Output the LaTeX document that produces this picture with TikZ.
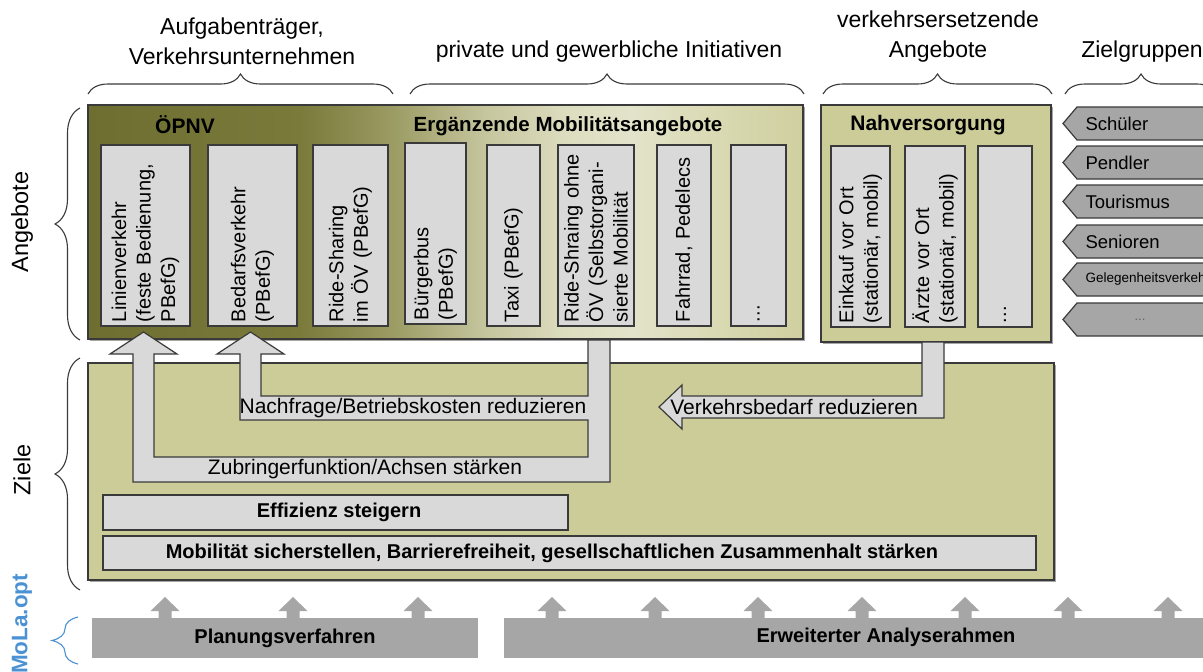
\documentclass[tikz,border=0pt]{standalone}
\usepackage{fontspec}
\setmainfont{Liberation Sans}
\usetikzlibrary{decorations.pathreplacing,shadows}

\definecolor{olivelight}{HTML}{CCCC99}
\definecolor{boxgray}{HTML}{D9D9D9}
\definecolor{bargray}{HTML}{A6A6A6}
\definecolor{edge}{HTML}{3A3A3A}
\definecolor{molablue}{HTML}{4A92D4}
\definecolor{g1}{HTML}{6E6E31}
\definecolor{g2}{HTML}{7A7A3B}
\definecolor{g3}{HTML}{9A9A62}
\definecolor{g4}{HTML}{C4C49C}
\definecolor{g5}{HTML}{DDDDC0}
\definecolor{g6}{HTML}{E3E3CB}
\definecolor{g7}{HTML}{D9D9B2}
\definecolor{g8}{HTML}{CFCFA0}

% olive gradient of the public transport / supplementary offers panel
\pgfdeclarehorizontalshading{oepnvgrad}{100bp}{%
  color(0bp)=(g1); color(25bp)=(g1); color(39.8bp)=(g2); color(46.1bp)=(g3);
  color(52.5bp)=(g4); color(58.5bp)=(g5); color(63bp)=(g6);
  color(69.2bp)=(g7); color(75bp)=(g8); color(100bp)=(g8)}

\tikzset{
  panel/.style={draw=edge, line width=1.6pt, inner sep=0pt,
    drop shadow={shadow xshift=2pt, shadow yshift=-2pt, fill=black, opacity=0.35}},
  ibox/.style={draw=edge, line width=1.2pt, fill=boxgray, rotate=90, align=left,
    inner ysep=0pt, inner xsep=4pt, minimum width=181pt, text width=173pt,
    font=\fontsize{20}{24.5}\selectfont},
  hbox/.style={draw=edge, line width=1.2pt, fill=boxgray, inner sep=0pt},
  blockarrow/.style={draw=edge, line width=1.2pt, fill=boxgray, line join=miter},
  headlabel/.style={font=\fontsize{23}{30}\selectfont, align=center},
  sidelabel/.style={font=\fontsize{23.5}{28}\selectfont, rotate=90},
  title/.style={font=\bfseries\fontsize{21}{25}\selectfont},
  goal/.style={font=\bfseries\fontsize{20}{24}\selectfont},
  arrowtext/.style={font=\fontsize{21}{25}\selectfont},
  bracedraw/.style={draw=edge, line width=1.1pt, decorate},
  group/.style={draw=edge, line width=1.2pt, fill=bargray},
  grouptext/.style={anchor=west, font=\fontsize{18.5}{22}\selectfont},
  uparrow/.style={fill=bargray},
}

\begin{document}
\begin{tikzpicture}[x=1pt, y=-1pt]
\useasboundingbox (0,0) rectangle (1203,672);
\clip (0,0) rectangle (1203,672);

% ---------- top captions and braces ----------
\node[headlabel] (capA) at (242,41) {Aufgabenträger,\\Verkehrsunternehmen};
\node[headlabel] (capB) at (609,52) {private und gewerbliche Initiativen};
\node[headlabel] (capC) at (938,37) {verkehrsersetzende\\Angebote};
\node[headlabel] (capD) at (1142,52) {Zielgruppen};
\draw[bracedraw, decoration={brace, amplitude=20pt}] (88,94) -- (393,94);
\draw[bracedraw, decoration={brace, amplitude=20pt}] (410,94) -- (804,94);
\draw[bracedraw, decoration={brace, amplitude=20pt}] (823,94) -- (1052,94);
\draw[bracedraw, decoration={brace, amplitude=20pt}] (1065,94) -- (1217,94);

% ---------- side captions and braces ----------
\node[sidelabel] (sideA) at (22,222) {Angebote};
\node[sidelabel] (sideZ) at (22,470) {Ziele};
\node[sidelabel, text=molablue, font=\bfseries\fontsize{22.5}{26}\selectfont] (sideM) at (22,624) {MoLa.opt};
\draw[bracedraw, decoration={brace, amplitude=25pt}] (80,340) -- (80,108);
\draw[bracedraw, decoration={brace, amplitude=25pt}] (80,590) -- (80,358);
\draw[bracedraw, draw=molablue, decoration={brace, amplitude=26pt}] (78,664) -- (78,617);

% ---------- goals panel ----------
\node[panel, fill=olivelight, minimum width=966pt, minimum height=217pt] (ziele) at (571,471.5) {};
\node[hbox, minimum width=465pt, minimum height=35pt] (eff) at (335.5,512.5) {};
\node[goal] (efftext) at (339,512.5) {Effizienz steigern};
\node[hbox, minimum width=933pt, minimum height=34pt] (mob) at (569.5,553) {};
\node[goal] (mobtext) at (552,553) {Mobilität sicherstellen, Barrierefreiheit, gesellschaftlichen Zusammenhalt stärken};

% ---------- offers panels ----------
\node[panel, shade, shading=oepnvgrad, minimum width=715pt, minimum height=234pt] (oepnv) at (445.5,222) {};
\node[panel, fill=olivelight, minimum width=230pt, minimum height=237pt] (nahv) at (936,223.5) {};

\node[title] (tOepnv) at (185,125) {ÖPNV};
\node[title, font=\bfseries\fontsize{20.5}{25}\selectfont] (tErg) at (568,126) {Ergänzende Mobilitätsangebote};
\node[title] (tNahv) at (928,125) {Nahversorgung};

\node[ibox, minimum height=89pt] (b1) at (145.5,235.5) {Linienverkehr\\(feste Bedienung,\\PBefG)};
\node[ibox, minimum height=89pt] (b2) at (252.5,235.5) {Bedarfsverkehr\\(PBefG)};
\node[ibox, minimum height=75pt] (b3) at (350.5,235.5) {Ride-Sharing\\im ÖV (PBefG)};
\node[ibox, minimum height=61pt] (b4) at (435.5,233.5) {Bürgerbus\\(PBefG)};
\node[ibox, minimum height=53pt] (b5) at (513.5,235.5) {Taxi (PBefG)};
\node[ibox, minimum height=76pt] (b6) at (596,235.5) {Ride-Shraing~ohne\\ÖV (Selbstorgani-\\sierte Mobilität};
\node[ibox, minimum height=54pt] (b7) at (684,235.5) {Fahrrad,~Pedelecs};
\node[ibox, minimum height=55pt] (b8) at (758.5,235.5) {...};
\node[ibox, minimum height=59pt] (n1) at (860.5,236.5) {Einkauf vor Ort\\(stationär, mobil)};
\node[ibox, minimum height=60pt] (n2) at (935,236.5) {Ärzte vor Ort\\(stationär, mobil)};
\node[ibox, minimum height=54pt] (n3) at (1005,236.5) {...};

% ---------- effect arrows between offers and goals ----------
\draw[blockarrow] (588,340) -- (610,340) -- (610,482) -- (133,482) -- (133,354)
  -- (110,354) -- (143.5,332) -- (177,354) -- (154,354) -- (154,457) -- (588,457)
  -- (588,420) -- (240,420) -- (240,354) -- (217,354) -- (250.5,332) -- (284,354)
  -- (261,354) -- (261,396) -- (588,396) -- cycle;
\draw[blockarrow] (922,342) -- (944,342) -- (944,418) -- (682,418) -- (682,429)
  -- (659,407) -- (682,385) -- (682,396) -- (922,396) -- cycle;
\node[arrowtext] (aNach) at (413,408) {Nachfrage/Betriebskosten reduzieren};
\node[arrowtext] (aZub) at (365,469) {Zubringerfunktion/Achsen stärken};
\node[arrowtext] (aVerk) at (794,407) {Verkehrsbedarf reduzieren};

% ---------- target groups ----------
\foreach \t/\lab/\fs in {107/Schüler/18.5, 146/Pendler/18.5, 185/Tourismus/18.5,
                        225/Senioren/18.5, 263/Gelegenheitsverkehr/13.5} {
  \draw[group] (1063,\t+16.5) -- (1077,\t) -- (1215,\t) -- (1215,\t+33) -- (1077,\t+33) -- cycle;
  \node[grouptext, font=\fontsize{\fs}{22}\selectfont] (zg\t) at (1082,\t+16.5) {\lab};
}
\draw[group] (1063,319.5) -- (1077,303) -- (1215,303) -- (1215,336) -- (1077,336) -- cycle;
\node[font=\fontsize{13}{16}\selectfont, text=black!60] (zgmore) at (1140,320) {...};

% ---------- method bars ----------
\node[fill=bargray, inner sep=0pt, minimum width=386pt, minimum height=40pt] (plan) at (285,638) {};
\node[goal] (plantext) at (285,638) {Planungsverfahren};
\node[fill=bargray, inner sep=0pt, minimum width=711pt, minimum height=40pt] (analyse) at (859.5,638) {};
\node[goal] (analysetext) at (886,637) {Erweiterter Analyserahmen};
\foreach \ax in {165,293,418,552,655,758,862,965,1068,1168} {
  \fill[uparrow] (\ax-6.5,619) -- (\ax-6.5,611) -- (\ax-14.5,611) -- (\ax,597)
    -- (\ax+14.5,611) -- (\ax+6.5,611) -- (\ax+6.5,619) -- cycle;
}
\end{tikzpicture}
\end{document}
